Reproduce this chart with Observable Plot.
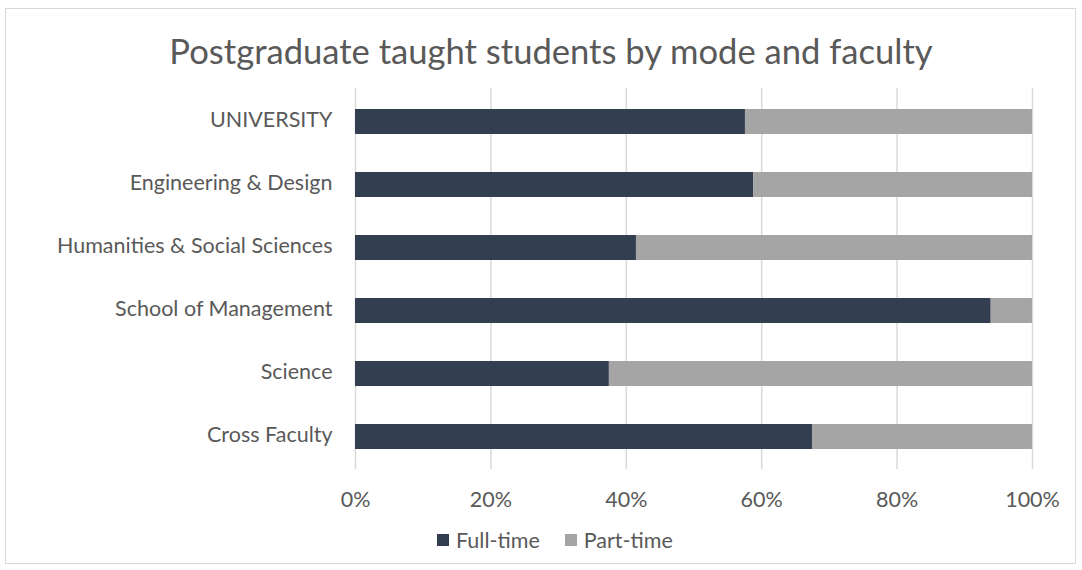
<!DOCTYPE html>
<html>
<head>
<meta charset="utf-8">
<script src="https://cdn.jsdelivr.net/npm/d3@7"></script>
<script src="https://cdn.jsdelivr.net/npm/@observablehq/plot@0.6"></script>
<style>
  html, body { margin: 0; padding: 0; background: #fff; }
  body { width: 1082px; height: 570px; position: relative; overflow: hidden; font-family: Lato, "Open Sans", sans-serif; color: #595959; }
  #frame { position: absolute; left: 5px; top: 8px; width: 1071px; height: 556px; border: 1px solid #d9d9d9; box-sizing: border-box; }
  #title { position: absolute; left: 10px; top: 28px; width: 1082px; text-align: center; font-size: 34.6px; line-height: 46px; color: #595959; }
  #chart { position: absolute; left: 0; top: 80px; }
  #legend { position: absolute; top: 527px; left: 437px; font-size: 21.5px; line-height: 26px; display: flex; align-items: center; }
  .sw { display: inline-block; width: 12px; height: 12px; margin-right: 7px; }
  .item { display: flex; align-items: center; margin-right: 25px; }
</style>
</head>
<body>
<div id="frame"></div>
<div id="title">Postgraduate taught students by mode and faculty</div>
<div id="chart"></div>
<div id="legend"></div>
<script>
const faculties = ["UNIVERSITY", "Engineering & Design", "Humanities & Social Sciences", "School of Management", "Science", "Cross Faculty"];
const modes = ["Full-time", "Part-time"];
const fullTime = [57.6, 58.8, 41.5, 93.9, 37.5, 67.5];
const partTime = [42.4, 41.2, 58.5, 6.1, 62.5, 32.5];
const xTicks = [0, 20, 40, 60, 80, 100];
const colors = ["#333f50", "#a5a5a5"];

const rows = [];
faculties.forEach((f, i) => {
  rows.push({faculty: f, mode: modes[0], value: fullTime[i]});
  rows.push({faculty: f, mode: modes[1], value: partTime[i]});
});

const plot = Plot.plot({
  width: 1082,
  height: 440,
  marginLeft: 355,
  marginRight: 50,
  marginTop: 8,
  marginBottom: 51,
  style: {fontFamily: "Lato, 'Open Sans', sans-serif", fontSize: "21.5px", color: "#595959", background: "transparent"},
  x: {domain: [0, 100], ticks: xTicks, tickFormat: d => d + "%", tickSize: 0, tickPadding: 22, label: null},
  y: {domain: faculties, paddingInner: 0.61, paddingOuter: 0.305, tickSize: 0, tickPadding: 23, label: null},
  color: {domain: modes, range: colors},
  marks: [
    Plot.ruleX(xTicks, {stroke: "#d9d9d9", strokeWidth: 1.5}),
    Plot.barX(rows, {x: "value", y: "faculty", fill: "mode"}),
    Plot.axisX({ticks: xTicks, tickFormat: d => d + "%", tickSize: 0, tickPadding: 22, label: null, fontSize: 21.5}),
    Plot.axisY({tickSize: 0, tickPadding: 23, label: null, fontSize: 21.5, dy: -2})
  ]
});
document.getElementById("chart").appendChild(plot);

const legend = document.getElementById("legend");
modes.forEach((m, i) => {
  const item = document.createElement("div");
  item.className = "item";
  const sw = document.createElement("span");
  sw.className = "sw";
  sw.style.background = colors[i];
  item.appendChild(sw);
  item.appendChild(document.createTextNode(m));
  legend.appendChild(item);
});
</script>
</body>
</html>
